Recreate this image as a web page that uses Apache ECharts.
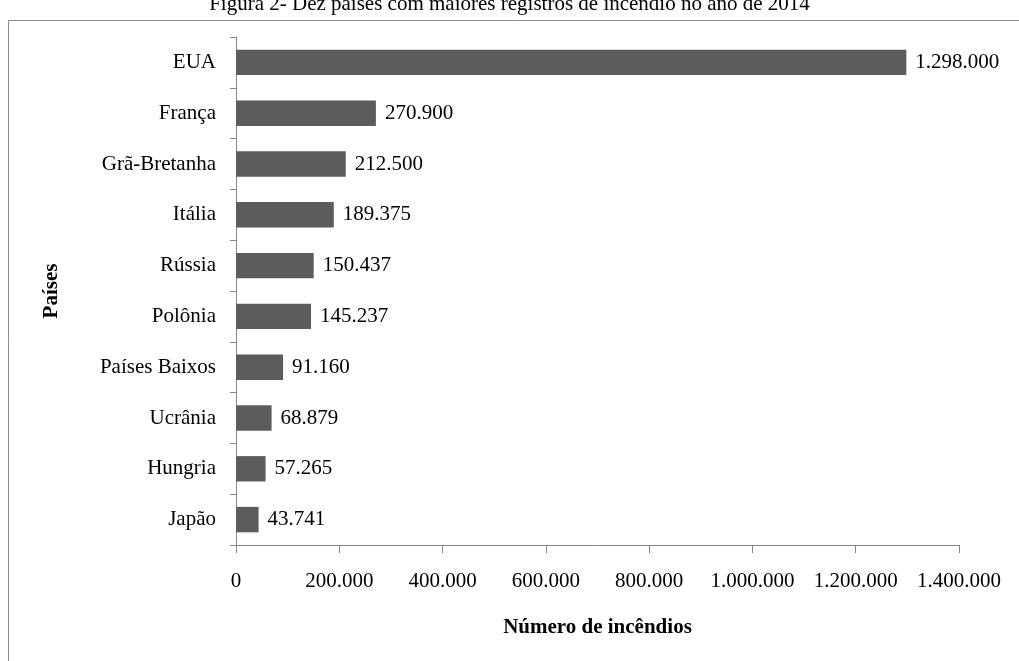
<!DOCTYPE html>
<html>
<head>
<meta charset="utf-8">
<script src="https://cdn.jsdelivr.net/npm/echarts@6/dist/echarts.min.js"></script>
<style>
  html, body { margin: 0; padding: 0; background: #fff; }
  #box { width: 1019px; height: 661px; }
</style>
</head>
<body>
<div id="box"></div>
<script>
const aCountries = ['EUA', 'França', 'Grã-Bretanha', 'Itália', 'Rússia', 'Polônia', 'Países Baixos', 'Ucrânia', 'Hungria', 'Japão'];
const aFires = [1298000, 270900, 212500, 189375, 150437, 145237, 91160, 68879, 57265, 43741];
const sTitle = 'Figura 2- Dez países com maiores registros de incêndio no ano de 2014';
const sFont = 'Liberation Serif';

// 1298000 -> 1.298.000
function fmtDots(v){
    return String(v).replace(/\B(?=(\d{3})+(?!\d))/g, '.');
}

const myChart = echarts.init(document.getElementById('box'));
const option = {
    animation: false,
    backgroundColor: '#fff',
    textStyle: { fontFamily: sFont },
    title: {
        text: sTitle,
        left: 'center',
        top: -11,
        textStyle: { fontFamily: sFont, fontSize: 21, fontWeight: 'normal', color: '#000' },
    },
    graphic: [{
        type: 'rect',
        shape: { x: 8.5, y: 20.5, width: 1030, height: 660 },
        style: { fill: null, stroke: '#8c8c8c', lineWidth: 1 },
        z: -1,
    }],
    grid: { left: 236, right: 60, top: 37, bottom: 116 },
    xAxis: {
        type: 'value',
        min: 0,
        max: 1400000,
        interval: 200000,
        name: 'Número de incêndios',
        nameLocation: 'middle',
        nameGap: 72,
        nameTextStyle: { fontFamily: sFont, fontSize: 21, fontWeight: 'bold', color: '#000' },
        axisLine: { show: true, lineStyle: { color: '#868686', width: 1 } },
        axisTick: { show: true, length: 8, lineStyle: { color: '#868686' } },
        axisLabel: { fontFamily: sFont, fontSize: 21, color: '#000', margin: 26, formatter: v => fmtDots(v) },
        splitLine: { show: false },
    },
    yAxis: {
        type: 'category',
        inverse: true,
        data: aCountries,
        name: 'Países',
        nameLocation: 'middle',
        nameGap: 174,
        nameRotate: 90,
        nameTextStyle: { fontFamily: sFont, fontSize: 21, fontWeight: 'bold', color: '#000' },
        axisLine: { show: true, lineStyle: { color: '#868686', width: 1 } },
        axisTick: { show: true, length: 6, lineStyle: { color: '#868686' } },
        axisLabel: { fontFamily: sFont, fontSize: 21, color: '#000', margin: 20 },
    },
    series: [{
        type: 'bar',
        data: aFires,
        barCategoryGap: '50%',
        itemStyle: { color: '#5c5c5c' },
        label: {
            show: true,
            position: 'right',
            distance: 9,
            fontFamily: sFont,
            fontSize: 21,
            color: '#000',
            formatter: p => fmtDots(p.value),
        },
    }],
};
myChart.setOption(option);
</script>
</body>
</html>
